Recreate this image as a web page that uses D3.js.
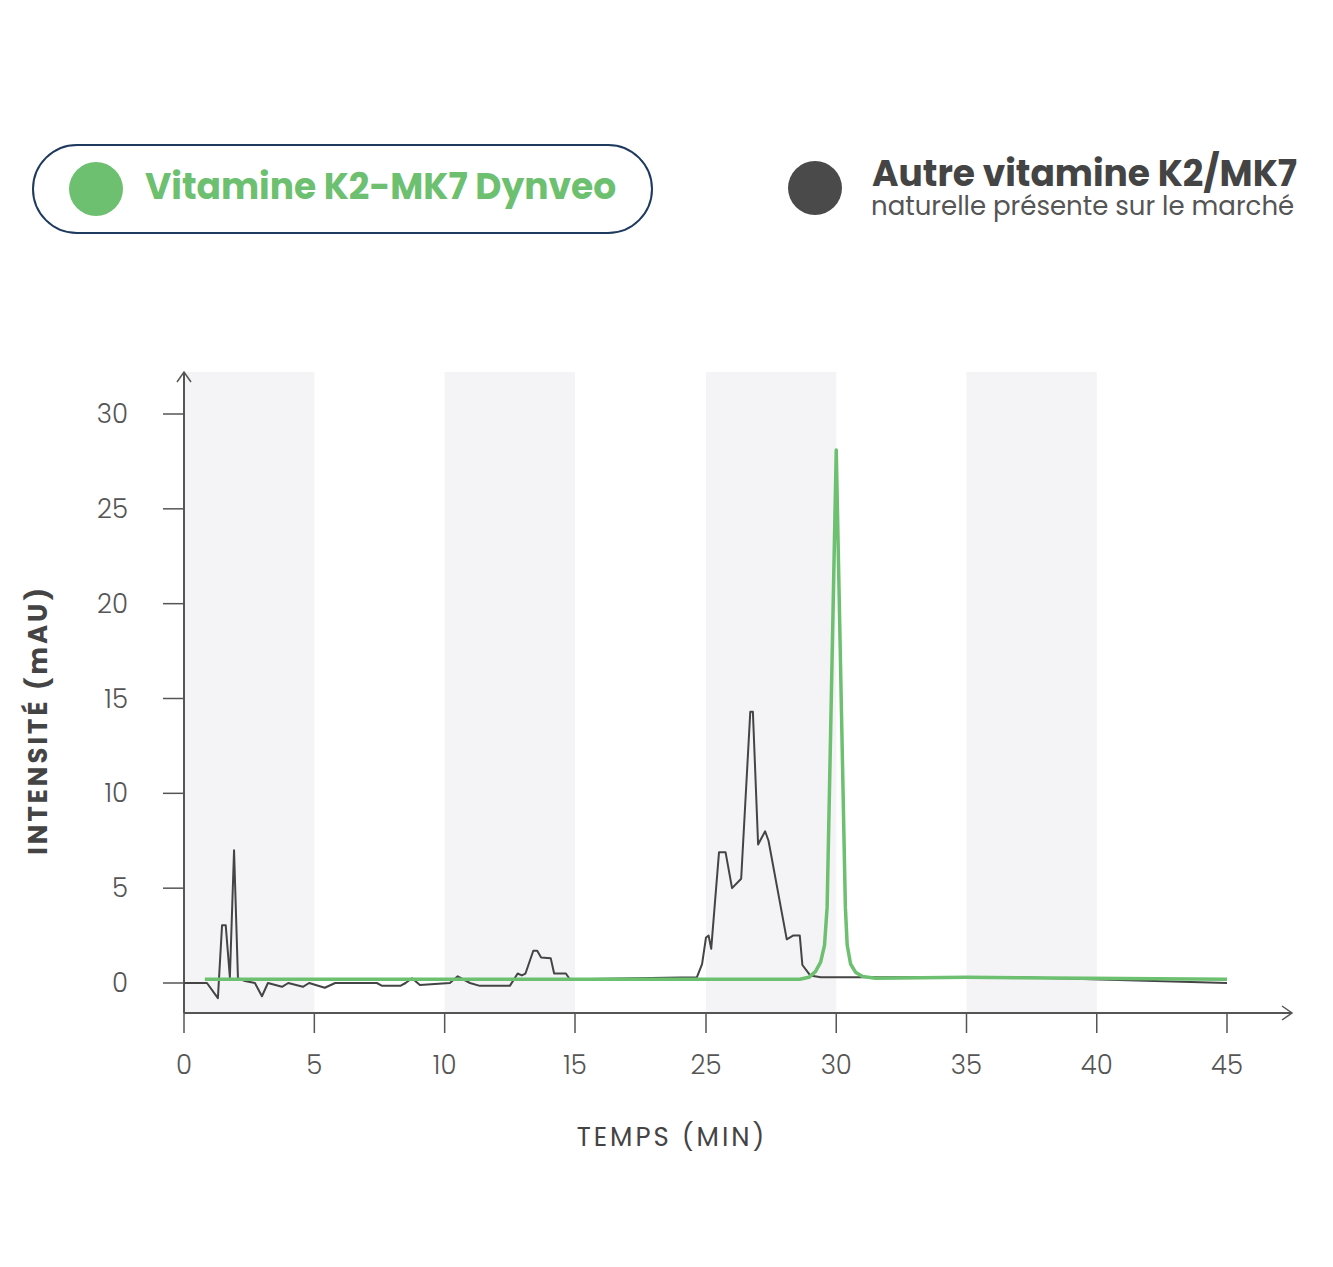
<!DOCTYPE html><html><head><meta charset="utf-8"><script src="https://cdn.jsdelivr.net/npm/d3@7"></script>
<style>body{margin:0;background:#fff}</style></head><body><svg id="c" width="1333" height="1267"></svg>
<script>
const xTicks=[0,5,10,15,25,30,35,40,45];
const yTicks=[0,5,10,15,20,25,30];
const bands=[[0,5],[10,15],[25,30],[35,40]];
const blackT=[0,0.88,1.3,1.46,1.6,1.76,1.92,2.07,2.34,2.72,2.99,3.22,3.76,4.0,4.56,4.8,5.4,5.8,7.4,7.6,8.3,8.5,8.75,9.05,10.2,10.5,10.97,11.35,12.5,12.8,12.96,13.1,13.4,13.55,13.7,14.07,14.2,14.65,14.8,15,24.3,24.7,25,25.1,25.2,25.5,25.75,26.0,26.35,26.7,26.8,27.0,27.27,27.4,28.1,28.34,28.6,28.7,29.0,29.4,37,45];
const blackV=[0,0,-0.8,3.05,3.05,0.3,7.0,0.25,0.1,0,-0.7,0,-0.2,0,-0.2,0,-0.25,0,0,-0.15,-0.15,0,0.25,-0.1,0,0.35,0,-0.15,-0.15,0.5,0.4,0.5,1.7,1.7,1.35,1.3,0.5,0.5,0.2,0.2,0.3,1.0,2.4,2.5,1.8,6.9,6.9,5.0,5.5,14.3,14.3,7.3,8.0,7.5,2.3,2.5,2.5,0.95,0.4,0.3,0.3,0];
const greenT=[0.8,15,25,28.6,28.95,29.2,29.4,29.55,29.65,30,30.35,30.42,30.55,30.75,31.0,31.5,35,45];
const greenV=[0.2,0.2,0.2,0.2,0.3,0.6,1.1,2.0,4,28.1,4,2.0,1.0,0.55,0.35,0.25,0.3,0.2];

const svg=d3.select("#c");
const x=d3.scaleLinear().domain([0,15,25,45]).range([184,575,706,1227]);
const y=d3.scaleLinear().domain([0,30]).range([983,414]);
const yTop=372, yBot=1013, axisC="#555";
bands.forEach(b=>svg.append("rect").attr("x",x(b[0])).attr("y",yTop).attr("width",x(b[1])-x(b[0])).attr("height",yBot-yTop).attr("fill","#f4f4f6"));
svg.append("line").attr("x1",184).attr("x2",184).attr("y1",yTop).attr("y2",yBot).attr("stroke",axisC).attr("stroke-width",2);
svg.append("path").attr("d",`M177,382L184,372L191,382`).attr("fill","none").attr("stroke",axisC).attr("stroke-width",1.5);
svg.append("line").attr("x1",184).attr("x2",1292).attr("y1",yBot).attr("y2",yBot).attr("stroke",axisC).attr("stroke-width",2);
svg.append("path").attr("d",`M1282,1006L1292,1013L1282,1020`).attr("fill","none").attr("stroke",axisC).attr("stroke-width",1.5);
const f="Poppins, Inter, 'Open Sans', sans-serif";
yTicks.forEach(v=>{
 svg.append("line").attr("x1",163).attr("x2",184).attr("y1",y(v)).attr("y2",y(v)).attr("stroke",axisC).attr("stroke-width",1.5);
 svg.append("text").attr("x",128).attr("y",y(v)+9).attr("text-anchor","end").attr("font-family",f).attr("font-size",26).attr("font-weight",300).attr("fill","#555").text(v);
});
xTicks.forEach(v=>{
 svg.append("line").attr("x1",x(v)).attr("x2",x(v)).attr("y1",yBot).attr("y2",1033).attr("stroke",axisC).attr("stroke-width",1.5);
 svg.append("text").attr("x",x(v)).attr("y",1074).attr("text-anchor","middle").attr("font-family",f).attr("font-size",26).attr("font-weight",300).attr("fill","#555").text(v);
});
svg.append("text").attr("x",672).attr("y",1146).attr("text-anchor","middle").attr("font-family",f).attr("font-size",26).attr("letter-spacing",3).attr("fill","#444").text("TEMPS (MIN)");
svg.append("text").attr("transform","translate(47,720) rotate(-90)").attr("text-anchor","middle").attr("font-family",f).attr("font-size",26).attr("font-weight",700).attr("letter-spacing",3).attr("fill","#444").text("INTENSITÉ (mAU)");
const bl=d3.line().x((d,i)=>x(blackT[i])).y(d=>y(d));
svg.append("path").attr("d",bl(blackV)).attr("fill","none").attr("stroke","#444").attr("stroke-width",2).attr("stroke-linejoin","round");
const gl=d3.line().x((d,i)=>x(greenT[i])).y(d=>y(d));
svg.append("path").attr("d",gl(greenV)).attr("fill","none").attr("stroke","#6cc070").attr("stroke-width",3.5).attr("stroke-linejoin","round");
svg.append("rect").attr("x",33).attr("y",145).attr("width",619).attr("height",88).attr("rx",44).attr("fill","#fff").attr("stroke","#1e3a5f").attr("stroke-width",2);
svg.append("circle").attr("cx",96).attr("cy",189).attr("r",27).attr("fill","#6cc070");
svg.append("text").attr("x",145).attr("y",199).attr("font-family",f).attr("font-size",36).attr("font-weight",700).attr("fill","#6cc070").text("Vitamine K2-MK7 Dynveo");
svg.append("circle").attr("cx",815).attr("cy",188).attr("r",27).attr("fill","#4a4a4a");
svg.append("text").attr("x",872).attr("y",186).attr("font-family",f).attr("font-size",36).attr("font-weight",700).attr("fill","#444").text("Autre vitamine K2/MK7");
svg.append("text").attr("x",871).attr("y",215).attr("font-family",f).attr("font-size",26).attr("fill","#555").text("naturelle présente sur le marché");
</script></body></html>
